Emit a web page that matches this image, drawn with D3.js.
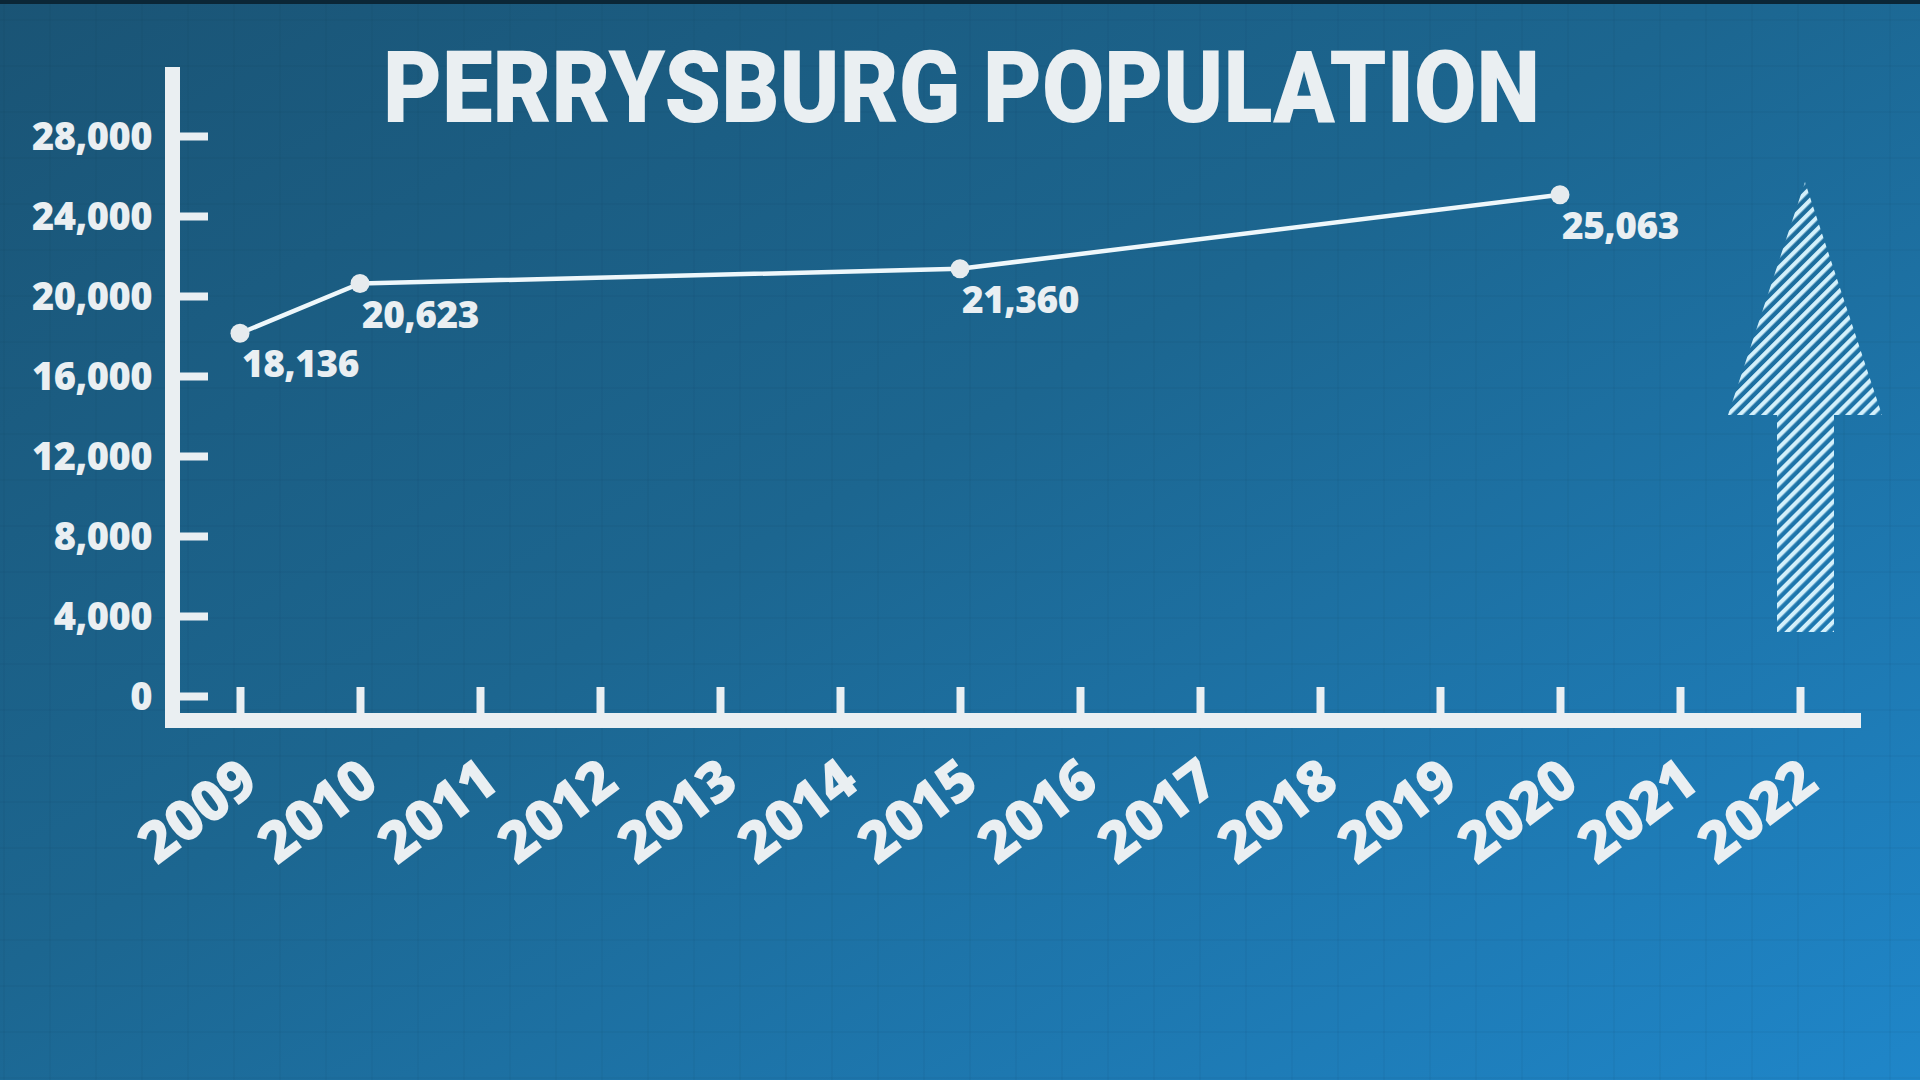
<!DOCTYPE html>
<html>
<head>
<meta charset="utf-8">
<script src="https://cdn.jsdelivr.net/npm/d3@7"></script>
<style>
  html, body { margin: 0; padding: 0; background: #1b5a7c; }
  svg { display: block; }
</style>
</head>
<body>
<svg id="chart" width="1920" height="1080"></svg>
<script>
// ---------------- data ----------------
const title = "PERRYSBURG POPULATION";
const years = ["2009","2010","2011","2012","2013","2014","2015","2016","2017","2018","2019","2020","2021","2022"];
const pointYears = ["2009","2010","2015","2020"];
const population = [18136, 20623, 21360, 25063];
const yTicks = [0, 4000, 8000, 12000, 16000, 20000, 24000, 28000];

// ---------------- layout ----------------
const W = 1920, H = 1080;
const svg = d3.select("#chart");
const defs = svg.append("defs");

const bg = defs.append("linearGradient").attr("id", "bg")
  .attr("x1", "0").attr("y1", "0").attr("x2", "1").attr("y2", "1");
bg.append("stop").attr("offset", "0%").attr("stop-color", "#1a5475");
bg.append("stop").attr("offset", "45%").attr("stop-color", "#1c6690");
bg.append("stop").attr("offset", "100%").attr("stop-color", "#1f86c9");

const hatch = defs.append("pattern").attr("id", "hatch")
  .attr("patternUnits", "userSpaceOnUse").attr("width", 8.5).attr("height", 8.5)
  .attr("patternTransform", "rotate(45)");
hatch.append("rect").attr("x", 0).attr("y", 0).attr("width", 4.2).attr("height", 8.5)
  .attr("fill", "#d3f0fb");

svg.append("rect").attr("width", W).attr("height", H).attr("fill", "url(#bg)");
svg.append("rect").attr("width", W).attr("height", 4).attr("fill", "#0b2636");

// faint background grid
const gridG = svg.append("g").attr("stroke", "#0c3550").attr("stroke-opacity", 0.045).attr("stroke-width", 2);
gridG.selectAll("line.v").data(d3.range(4, W, 46)).join("line")
  .attr("x1", d => d).attr("x2", d => d).attr("y1", 0).attr("y2", H);
gridG.selectAll("line.h").data(d3.range(20, H, 46)).join("line")
  .attr("y1", d => d).attr("y2", d => d).attr("x1", 0).attr("x2", W);

// scales
const x = d3.scalePoint().domain(years).range([240, 1800]);
const y = d3.scaleLinear().domain([0, 28000]).range([696, 136]);

const ink = "#eaeff2";
const numFont = "'Open Sans', Lato, sans-serif";

// title
svg.append("text")
  .attr("x", 383).attr("y", 122)
  .attr("textLength", 1157).attr("lengthAdjust", "spacingAndGlyphs")
  .attr("font-family", "Roboto, 'Open Sans', sans-serif")
  .attr("font-weight", 900).attr("font-size", 100)
  .attr("fill", ink)
  .text(title);

// y axis
const yAxis = svg.append("g").attr("transform", "translate(180,0)")
  .call(d3.axisLeft(y).tickValues(yTicks).tickFormat(d3.format(",")).tickSizeInner(-28).tickSizeOuter(0).tickPadding(28));
yAxis.select(".domain").remove();
yAxis.selectAll(".tick line").attr("stroke", ink).attr("stroke-width", 8);
yAxis.selectAll(".tick text")
  .attr("fill", ink).attr("font-family", numFont)
  .attr("font-weight", 800).attr("font-size", 38).attr("dy", "0.35em")
  .attr("letter-spacing", -0.5);

// x axis
const xAxis = svg.append("g").attr("transform", "translate(0,713)")
  .call(d3.axisBottom(x).tickSizeInner(-26).tickSizeOuter(0));
xAxis.select(".domain").remove();
xAxis.selectAll(".tick line").attr("stroke", ink).attr("stroke-width", 8);
xAxis.selectAll(".tick text")
  .attr("x", 0).attr("y", 0).attr("dy", 0)
  .attr("text-anchor", "end")
  .attr("transform", "translate(20,75) rotate(-37)")
  .attr("fill", ink).attr("font-family", numFont)
  .attr("font-weight", 800).attr("font-size", 57)
  .attr("letter-spacing", -1);

// axis frame lines
const frame = d3.path();
frame.moveTo(172.5, 67);
frame.lineTo(172.5, 720.5);
frame.lineTo(1861, 720.5);
svg.append("path").attr("d", frame.toString())
  .attr("fill", "none").attr("stroke", ink).attr("stroke-width", 15)
  .attr("stroke-linejoin", "miter").attr("stroke-linecap", "butt");

// data line
const pts = pointYears.map((yr, i) => ({ yr, v: population[i] }));
svg.append("path").datum(pts)
  .attr("d", d3.line().x(d => x(d.yr)).y(d => y(d.v)))
  .attr("fill", "none").attr("stroke", "#eef7fb").attr("stroke-width", 4.5);
svg.selectAll("circle.pt").data(pts).join("circle")
  .attr("cx", d => x(d.yr)).attr("cy", d => y(d.v)).attr("r", 9.5)
  .attr("fill", "#e6ebee");
svg.selectAll("text.lbl").data(pts).join("text")
  .attr("x", d => x(d.yr) + 2).attr("y", d => y(d.v) + 44)
  .attr("fill", ink).attr("font-family", numFont)
  .attr("font-weight", 800).attr("font-size", 37)
  .attr("letter-spacing", -0.5)
  .text(d => d3.format(",")(d.v));

// decorative hatched arrow above 2022
const ax = x("2022") + 5;
const tipY = y(25700), baseY = y(14050), botY = y(3200);
const arrow = d3.path();
arrow.moveTo(ax, tipY);
arrow.lineTo(ax + 77, baseY);
arrow.lineTo(ax + 29, baseY);
arrow.lineTo(ax + 29, botY);
arrow.lineTo(ax - 28, botY);
arrow.lineTo(ax - 28, baseY);
arrow.lineTo(ax - 77, baseY);
arrow.closePath();
svg.append("path").attr("d", arrow.toString()).attr("fill", "url(#hatch)");
</script>
</body>
</html>
